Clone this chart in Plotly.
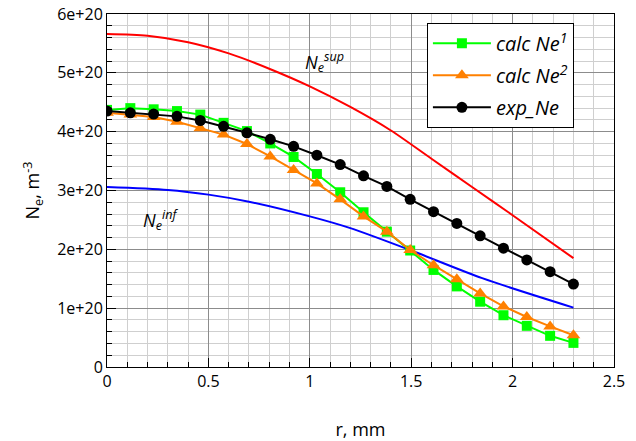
import plotly.graph_objects as go

# radial positions (mm) of computed / measured points
r_pts = [0, 0.115, 0.23, 0.345, 0.46, 0.575, 0.69, 0.805, 0.92, 1.035, 1.15,
         1.265, 1.38, 1.495, 1.61, 1.725, 1.84, 1.955, 2.07, 2.185, 2.3]
# values in units of 1e20 m^-3
calc_ne1 = [4.37, 4.40, 4.38, 4.35, 4.29, 4.15, 4.01, 3.80, 3.57, 3.28, 2.97,
            2.63, 2.30, 1.98, 1.65, 1.37, 1.11, 0.88, 0.70, 0.53, 0.41]
calc_ne2 = [4.32, 4.29, 4.25, 4.17, 4.06, 3.95, 3.79, 3.58, 3.35, 3.12, 2.85,
            2.56, 2.30, 1.99, 1.73, 1.49, 1.25, 1.03, 0.85, 0.69, 0.54]
exp_ne = [4.35, 4.32, 4.30, 4.26, 4.19, 4.09, 3.98, 3.87, 3.75, 3.60, 3.44,
          3.25, 3.07, 2.85, 2.64, 2.44, 2.23, 2.02, 1.82, 1.62, 1.41]

r_sup = [0, 0.2, 0.4, 0.6, 0.8, 1.0, 1.2, 1.4, 1.6, 1.8, 2.0, 2.3]
ne_sup = [5.66, 5.63, 5.52, 5.33, 5.07, 4.77, 4.42, 4.02, 3.54, 3.06, 2.58, 1.85]

r_inf = [0, 0.3, 0.5, 0.7, 1.0, 1.2, 1.5, 1.85, 2.3]
ne_inf = [3.06, 3.01, 2.93, 2.81, 2.56, 2.36, 1.98, 1.51, 1.01]

y_tickvals = [0, 1, 2, 3, 4, 5, 6]
y_ticktext = ["0", "1e+20", "2e+20", "3e+20", "4e+20", "5e+20", "6e+20"]
x_tickvals = [0, 0.5, 1, 1.5, 2, 2.5]
x_ticktext = ["0", "0.5", "1", "1.5", "2", "2.5"]

S = 1e20
sc = lambda v: [x * S for x in v]

FONT = "Open Sans"
fig = go.Figure()
fig.add_trace(go.Scatter(x=r_sup, y=sc(ne_sup), mode="lines",
                         line=dict(color="#ff0000", width=2, shape="spline", smoothing=0.8),
                         showlegend=False, hoverinfo="skip"))
fig.add_trace(go.Scatter(x=r_inf, y=sc(ne_inf), mode="lines",
                         line=dict(color="#0000ff", width=2, shape="spline", smoothing=0.8),
                         showlegend=False, hoverinfo="skip"))
fig.add_trace(go.Scatter(x=r_pts, y=sc(calc_ne1), mode="lines+markers", name="<i>calc Ne<sup>1</sup></i>",
                         legendgroup="g1",
                         line=dict(color="#00ff00", width=2),
                         marker=dict(symbol="square", size=10, color="#00ff00")))
fig.add_trace(go.Scatter(x=r_pts, y=sc(calc_ne2), mode="lines+markers", name="<i>calc Ne<sup>2</sup></i>",
                         legendgroup="g2",
                         line=dict(color="#ff8000", width=2),
                         marker=dict(symbol="triangle-up", size=12, color="#ff8000")))
fig.add_trace(go.Scatter(x=r_pts, y=sc(exp_ne), mode="lines+markers", name="<i>exp_Ne</i>",
                         legendgroup="g3",
                         line=dict(color="#000000", width=2),
                         marker=dict(symbol="circle", size=11, color="#000000")))

fig.add_annotation(x=0.966, y=5.19 * S, text="<i>N<sub>e</sub><sup>sup</sup></i>", showarrow=False,
                   xanchor="left", yanchor="middle", font=dict(family=FONT, size=18, color="black"))
fig.add_annotation(x=0.168, y=2.50 * S, text="<i>N<sub>e</sub><sup>inf</sup></i>", showarrow=False,
                   xanchor="left", yanchor="middle", font=dict(family=FONT, size=18, color="black"))

axis_common = dict(showline=True, linecolor="black", linewidth=1, mirror=True,
                   ticks="inside", ticklen=9, tickcolor="black", tickwidth=1,
                   showgrid=True, gridcolor="#8c8c8c", gridwidth=1, zeroline=False,
                   automargin=False,
                   tickfont=dict(family=FONT, size=16, color="black"))

fig.update_xaxes(range=[0, 2.5], tickmode="array", tickvals=x_tickvals, ticktext=x_ticktext,
                 minor=dict(dtick=0.1, ticks="inside", ticklen=5, tickcolor="black",
                            showgrid=True, gridcolor="#cfcfcf", gridwidth=1),
                 title=dict(text="r, mm", font=dict(family=FONT, size=18, color="black"), standoff=32),
                 **axis_common)
fig.update_yaxes(range=[0, 6 * S], tickmode="array", tickvals=[v * S for v in y_tickvals], ticktext=y_ticktext,
                 minor=dict(dtick=0.2 * S, ticks="inside", ticklen=5, tickcolor="black",
                            showgrid=True, gridcolor="#cfcfcf", gridwidth=1),
                 title=dict(text="N<sub>e</sub>, m<sup>-3</sup>", font=dict(family=FONT, size=18, color="black"),
                            standoff=12),
                 **axis_common)

fig.update_layout(
    width=636, height=441,
    margin=dict(l=107, r=22, t=14, b=74),
    paper_bgcolor="white", plot_bgcolor="white",
    font=dict(family=FONT, size=16, color="black"),
    legend=dict(x=0.631, y=0.975, xanchor="left", yanchor="top",
                bgcolor="white", bordercolor="black", borderwidth=1,
                font=dict(family=FONT, size=20, color="black"),
                tracegroupgap=3, itemwidth=58),
)

fig.write_html("out.html", config={"displayModeBar": False},
               post_script="document.body.style.margin='0';document.body.style.overflow='hidden';")
